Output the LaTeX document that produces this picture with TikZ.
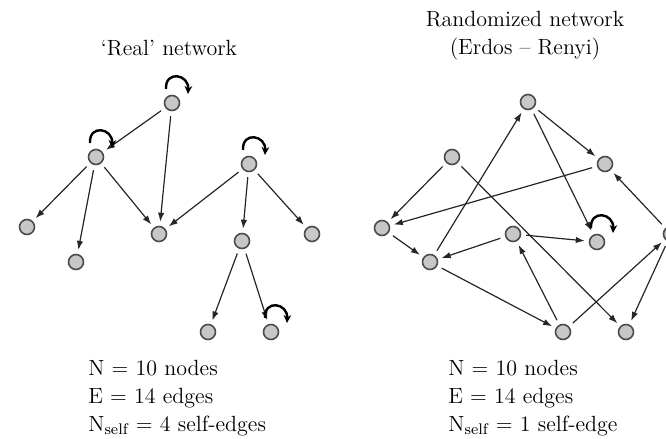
\documentclass[tikz,border=0pt]{standalone}
\usetikzlibrary{arrows.meta}
\begin{document}
\begin{tikzpicture}[
      x=0.5pt, y=0.5pt,
      vertex/.style={circle,draw=black!70,fill=black!22,line width=0.8pt,minimum size=7.5pt,inner sep=0pt},
      link/.style={draw=black!85,line width=0.6pt,-{Latex[length=4.5pt,width=3.2pt]},shorten <=2.5pt,shorten >=2pt},
      selfloop/.style={draw=black,line width=1.2pt,-{Stealth[length=4pt,width=3.8pt]},
                       to path={([shift={(-6,14)}]\tikztostart.center) .. controls +(-1,19) and +(1,20) .. ([shift={(16,9)}]\tikztostart.center)}},
      caption/.style={font=\fontsize{11}{14}\selectfont,align=center,inner sep=0pt},
      stats/.style={font=\fontsize{11}{14}\selectfont,align=left,anchor=west,inner sep=0pt}
      ]
      \useasboundingbox (0,0) rectangle (666,439);

      % real network
      \node[caption] (realtitle) at (169,391) {`Real' network};
      \node[vertex] (r1) at (172,336) {};
      \node[vertex] (r2) at (96,282) {};
      \node[vertex] (r3) at (249,275) {};
      \node[vertex] (r4) at (27,212) {};
      \node[vertex] (r5) at (76,177) {};
      \node[vertex] (r6) at (159,205) {};
      \node[vertex] (r7) at (242,198) {};
      \node[vertex] (r8) at (312,205) {};
      \node[vertex] (r9) at (208,107) {};
      \node[vertex] (r10) at (271,107) {};

      \draw[link] (r1) -- (r2);
      \draw[link] (r1) -- (r6);
      \draw[link] (r2) -- (r4);
      \draw[link] (r2) -- (r5);
      \draw[link] (r2) -- (r6);
      \draw[link] (r3) -- (r6);
      \draw[link] (r3) -- (r7);
      \draw[link] (r3) -- (r8);
      \draw[link] (r7) -- (r9);
      \draw[link] (r7) -- (r10);
      \path (r1) edge[selfloop] (r1)
            (r2) edge[selfloop] (r2)
            (r3) edge[selfloop] (r3)
            (r10) edge[selfloop] (r10);

      \node[stats] (realstats) at (88,41) {N = 10 nodes\\E = 14 edges\\N\textsubscript{self} = 4 self-edges};

      % randomized network
      \node[caption] (randtitle) at (525,403) {Randomized network\\(Erdos -- Renyi)};
      \node[vertex] (e1) at (528,337) {};
      \node[vertex] (e2) at (452,282) {};
      \node[vertex] (e3) at (605,275) {};
      \node[vertex] (e4) at (382,211) {};
      \node[vertex] (e5) at (430,177) {};
      \node[vertex] (e6) at (513,205) {};
      \node[vertex] (e7) at (597,197) {};
      \node[vertex] (e8) at (671,205) {};
      \node[vertex] (e9) at (563,107) {};
      \node[vertex] (e10) at (626,107) {};

      \draw[link] (e2) -- (e4);
      \draw[link] (e3) -- (e4);
      \draw[link] (e4) -- (e5);
      \draw[link] (e5) -- (e1);
      \draw[link] (e1) -- (e3);
      \draw[link] (e1) -- (e7);
      \draw[link] (e2) -- (e10);
      \draw[link] (e6) -- (e5);
      \draw[link] (e6) -- (e7);
      \draw[link] (e9) -- (e6);
      \draw[link] (e5) -- (e9);
      \draw[link] (e9) -- (e8);
      \draw[link] (e8) -- (e3);
      \draw[link] (e8) -- (e10);
      \path (e7) edge[selfloop] (e7);

      \node[stats] (randstats) at (448,41) {N = 10 nodes\\E = 14 edges\\N\textsubscript{self} = 1 self-edge};
    \end{tikzpicture}
\end{document}
